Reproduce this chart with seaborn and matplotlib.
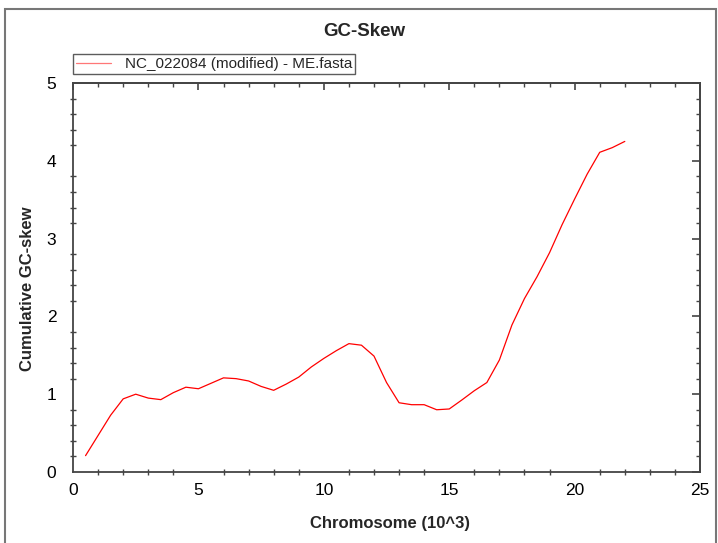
import numpy as np
import pandas as pd
import seaborn as sns
import matplotlib.pyplot as plt
from matplotlib.ticker import MultipleLocator
from matplotlib.patches import Rectangle

# Positionen (10^3) und kumulativer GC-Skew
position = [0.5, 1.0, 1.5, 2.0, 2.5, 3.0, 3.5, 4.0, 4.5, 5.0, 5.5, 6.0, 6.5, 7.0, 7.5,
            8.0, 8.5, 9.0, 9.5, 10.0, 10.5, 11.0, 11.5, 12.0, 12.5, 13.0, 13.5, 14.0,
            14.5, 15.0, 15.5, 16.0, 16.5, 17.0, 17.5, 18.0, 18.5, 19.0, 19.5, 20.0,
            20.5, 21.0, 21.5, 22.0]
gc_skew = [0.21, 0.47, 0.73, 0.94, 1.00, 0.95, 0.93, 1.02, 1.09, 1.07, 1.14, 1.21, 1.20,
           1.17, 1.10, 1.05, 1.13, 1.22, 1.35, 1.46, 1.56, 1.65, 1.63, 1.49, 1.15, 0.89,
           0.865, 0.865, 0.80, 0.81, 0.925, 1.045, 1.15, 1.44, 1.89, 2.23, 2.51, 2.82,
           3.18, 3.51, 3.83, 4.11, 4.17, 4.25]
serie = "NC_022084 (modified) - ME.fasta"

df = pd.DataFrame({"Chromosome": position, "Skew": gc_skew})

sns.set_theme(style="white")
plt.rcParams["font.family"] = ["Liberation Sans", "DejaVu Sans"]

fig = plt.figure(figsize=(7.18, 5.43), dpi=100)
# Rahmen um die Grafik (unten offen)
fig.patches.append(Rectangle((5 / 718, -0.05), 711 / 718, 1.05 - 9 / 543,
                             transform=fig.transFigure, fill=False,
                             edgecolor="#777777", linewidth=1.5))
ax = fig.add_axes([0.1017, 0.1308, 0.8733, 0.7162])

sns.lineplot(data=df, x="Chromosome", y="Skew", color="red", linewidth=0.9,
             label=serie, ax=ax)

ax.set_xlim(0, 25)
ax.set_ylim(0, 5)
ax.xaxis.set_major_locator(MultipleLocator(5))
ax.xaxis.set_minor_locator(MultipleLocator(1))
ax.yaxis.set_major_locator(MultipleLocator(1))
ax.yaxis.set_minor_locator(MultipleLocator(0.2))
ax.tick_params(axis="x", which="major", direction="inout", length=8, width=1.2,
               color="#444444", labelsize=12.5, labelcolor="black", pad=4)
ax.tick_params(axis="y", which="major", direction="inout", length=8, width=1.2,
               color="#444444", labelsize=12.5, labelcolor="black", pad=8)
ax.tick_params(which="minor", direction="inout", length=5, width=1.0, color="#444444",
               bottom=True, left=True)
for s in ax.spines.values():
    s.set_color("#444444")
    s.set_linewidth(1.3)

# Ticks oben und rechts nach innen
top = ax.secondary_xaxis("top")
top.xaxis.set_major_locator(MultipleLocator(5))
top.xaxis.set_minor_locator(MultipleLocator(1))
top.tick_params(which="major", direction="in", length=5, width=1.2, color="#444444",
                labeltop=False)
top.tick_params(which="minor", direction="in", length=3, width=1.0, color="#444444")
top.spines["top"].set_color("#444444")
right = ax.secondary_yaxis("right")
right.yaxis.set_major_locator(MultipleLocator(1))
right.yaxis.set_minor_locator(MultipleLocator(0.2))
right.tick_params(which="major", direction="in", length=6, width=1.2, color="#444444",
                  labelright=False)
right.tick_params(which="minor", direction="in", length=3, width=1.0, color="#444444")
right.spines["right"].set_color("#444444")

ax.set_xlabel("Chromosome (10^3)", fontsize=12, fontweight="bold")
ax.set_ylabel("Cumulative GC-skew", fontsize=12, fontweight="bold")
ax.xaxis.set_label_coords(0.506, -0.112)
ax.yaxis.set_label_coords(-0.061, 0.47)
fig.suptitle("GC-Skew", x=0.507, y=0.957, fontsize=13.5, fontweight="bold")

leg = ax.legend(loc="lower left", bbox_to_anchor=(0.0, 1.023), borderaxespad=0,
                frameon=True, fancybox=False, fontsize=11, handlelength=2.3,
                borderpad=0.2, handletextpad=0.9)
leg.get_frame().set_edgecolor("#333333")
leg.get_frame().set_linewidth(1.0)
leg.get_lines()[0].set_color("#ff7777")

fig.savefig("out.png", dpi=100)
plt.close(fig)
